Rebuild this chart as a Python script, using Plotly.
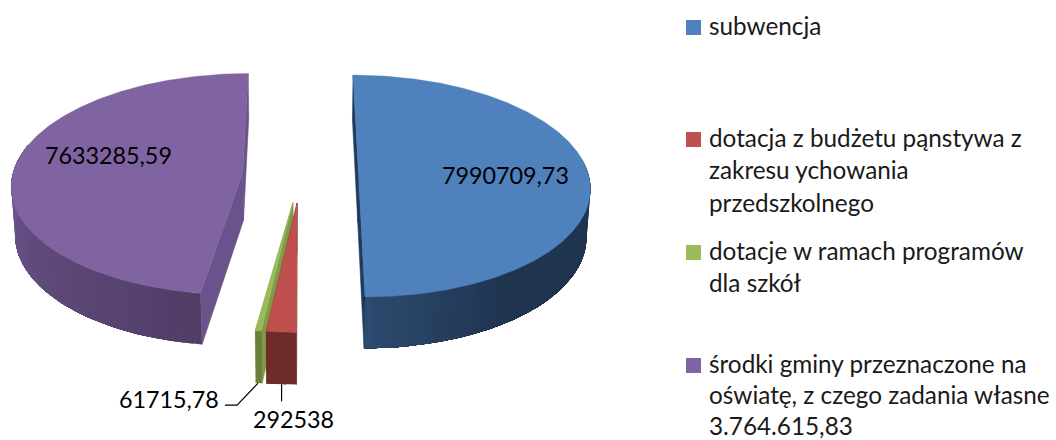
import numpy as np
import plotly.graph_objects as go

# ---- data ----
categories = ["subwencja",
              "dotacja z budżetu pąnstywa z zakresu ychowania przedszkolnego",
              "dotacje w ramach programów dla szkół",
              "środki gminy przeznaczone na oświatę, z czego zadania własne 3.764.615,83"]
values = [7990709.73, 292538, 61715.78, 7633285.59]
value_labels = ["7990709,73", "292538", "61715,78", "7633285,59"]
legend_lines = [["subwencja"],
                ["dotacja z budżetu pąnstywa z", "zakresu ychowania", "przedszkolnego"],
                ["dotacje w ramach programów", "dla szkół"],
                ["środki gminy przeznaczone na", "oświatę, z czego zadania własne", "3.764.615,83"]]
top_colors = ["#4f81bd", "#c0504d", "#9bbb59", "#8064a2"]
inner_colors = ["#1f3a5c", "#7a3230", "#7f9a48", "#69538a"]
# side-wall shading: (angle stop, colour) pairs per slice
wall_stops = [[(60, (31, 52, 79)), (145, (31, 52, 79)), (180, (46, 75, 112))],
              [(180, (110, 43, 42)), (190, (110, 43, 42))],
              [(180, (106, 128, 56)), (190, (106, 128, 56))],
              [(188, (80, 62, 102)), (230, (94, 73, 122)), (280, (112, 86, 146))]]

# ---- pie geometry / camera ----
R, EXPLODE, THICK = 230.0, 58.0, 55.0
VX, CY = 300.5, 174.6
TILT, FOCAL = np.radians(28.5), 1963.0
FONT = "Lato"
FS_LEGEND = 24.3
FS_VALUE = 23.3


def project(X, D, Z):
    w = D * np.cos(TILT) + Z * np.sin(TILT)
    v = Z * np.cos(TILT) - D * np.sin(TILT)
    k = FOCAL / (FOCAL - w)
    return VX + X * k, CY - v * k


def poly(fig, x, y, color, lw=0.6):
    fig.add_trace(go.Scatter(x=list(x), y=list(y), mode="lines", fill="toself",
                             fillcolor=color, line=dict(color=color, width=lw),
                             hoverinfo="skip", showlegend=False))


total = sum(values)
ends = np.cumsum(values) / total * 360.0
starts = np.concatenate([[0.0], ends[:-1]])
fig = go.Figure()
anchors = {}
for i in [3, 0, 2, 1]:
    a0, a1 = starts[i], ends[i]
    mid = np.radians((a0 + a1) / 2)
    ox, od = EXPLODE * np.sin(mid), -EXPLODE * np.cos(mid)

    def rim(deg, z=0.0):
        t = np.radians(deg)
        return project(ox + R * np.sin(t), od - R * np.cos(t), z)

    cx_t, cy_t = project(ox, od, 0)
    cx_b, cy_b = project(ox, od, -THICK)
    # inner cut faces
    for ang in (a0, a1):
        x1, y1 = rim(ang)
        x2, y2 = rim(ang, -THICK)
        poly(fig, [cx_t, x1, x2, cx_b, cx_t], [cy_t, y1, y2, cy_b, cy_t], inner_colors[i])
    # outer wall: overlapping bands painted in turn, shaded by angle, so no seams show
    stops = wall_stops[i]
    sa = [s[0] for s in stops]
    lo = max(a0, 80.0)
    hi = min(a1, 285.0)
    n = max(2, int((hi - lo) / 2) + 1)
    edges = np.linspace(lo, hi, n)
    for k in range(n - 1):
        m = (edges[k] + edges[k + 1]) / 2
        rgb = [int(np.interp(m, sa, [s[1][c] for s in stops])) for c in range(3)]
        col = "rgb(%d,%d,%d)" % tuple(rgb)
        band = edges[k:]
        xt, yt = rim(band)
        xb, yb = rim(band[::-1], -THICK)
        poly(fig, np.r_[xt, xb, xt[0]], np.r_[yt, yb, yt[0]], col, 0)
    # top face
    arc = np.linspace(a0, a1, max(6, int(a1 - a0) * 2))
    ax, ay = rim(arc)
    poly(fig, np.r_[cx_t, ax, cx_t], np.r_[cy_t, ay, cy_t], top_colors[i], 0.4)
    anchors[i] = rim((a0 + a1) / 2, -THICK)

# leader lines from the small slices to their labels
lx, ly = anchors[1]
fig.add_trace(go.Scatter(x=[lx, lx], y=[ly, ly + 17], mode="lines",
                         line=dict(color="black", width=1.2), hoverinfo="skip", showlegend=False))
lx, ly = anchors[2]
fig.add_trace(go.Scatter(x=[lx - 1, lx - 22, lx - 34], y=[ly, ly + 22, ly + 22], mode="lines",
                         line=dict(color="black", width=1.2), hoverinfo="skip", showlegend=False))

# data labels
label_pos = [(505, 175), (293, 419), (169, 399), (108, 155)]
for txt, (x, y) in zip(value_labels, label_pos):
    fig.add_annotation(x=x, y=y, text=txt, showarrow=False, xanchor="center", yanchor="middle",
                       font=dict(family=FONT, size=FS_VALUE, color="black"))

# legend
swatch_y = [27.5, 139.5, 252.5, 365.5]
line_steps = [32.6, 32.6, 32.6, 31.2]
fig.add_trace(go.Scatter(x=[693.5] * 4, y=swatch_y, mode="markers",
                         marker=dict(symbol="square", size=15, color=top_colors, line=dict(width=0)),
                         hoverinfo="skip", showlegend=False))
for lines, y0, step in zip(legend_lines, swatch_y, line_steps):
    for j, ln in enumerate(lines):
        fig.add_annotation(x=706.5, y=y0 - 2.5 + j * step, text=ln, showarrow=False,
                           xanchor="left", yanchor="middle",
                           font=dict(family=FONT, size=FS_LEGEND, color="#1a1a1a"))

fig.update_xaxes(range=[0, 1056], visible=False, fixedrange=True)
fig.update_yaxes(range=[440, 0], visible=False, fixedrange=True)
fig.update_layout(width=1056, height=440, margin=dict(l=0, r=0, t=0, b=0),
                  paper_bgcolor="white", plot_bgcolor="white", showlegend=False)
fig.write_html("out.html", config={"displayModeBar": False},
               post_script="document.body.style.margin='0';document.body.style.overflow='hidden';")
